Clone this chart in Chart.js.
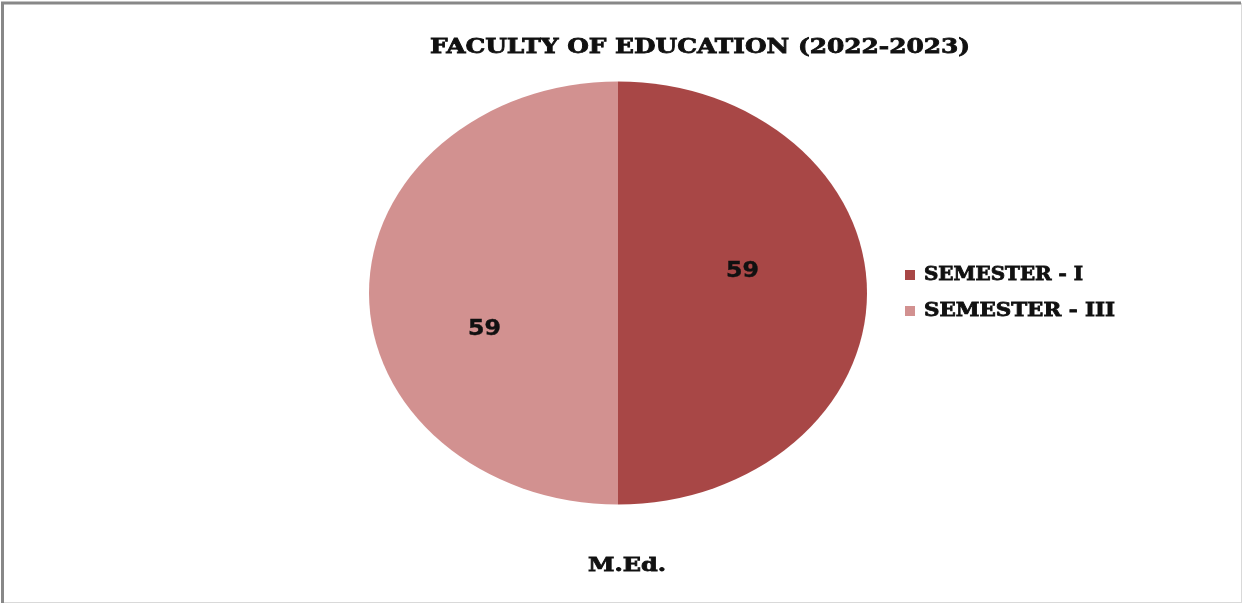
<!DOCTYPE html>
<html>
<head>
<meta charset="utf-8">
<script src="https://cdn.jsdelivr.net/npm/chart.js@4.4.0/dist/chart.umd.min.js"></script>
<style>
  html, body { margin: 0; padding: 0; background: #fff; }
  #wrap { width: 1242px; height: 603px; position: relative; }
</style>
</head>
<body>
<div id="wrap"><canvas id="pieChart" width="1242" height="603"></canvas></div>
<script>
// Chart data
const categories = ['SEMESTER - I', 'SEMESTER - III'];
const students = [59, 59];
const sliceColors = ['#A84746', '#D29190'];
const chartTitle = 'FACULTY OF EDUCATION (2022-2023)';
const axisTitle = 'M.Ed.';

// label nudges (Excel places them a bit off the mid point)
const labelNudge = [[0, -21], [-9, 37]];

const serif = '"DejaVu Serif", "Liberation Serif", serif';

// squash the circle into the ellipse the original uses
const ellipsePlugin = {
    id: 'ellipse',
    beforeDatasetsDraw(chart) {
        const ctx = chart.ctx;
        const arc = chart.getDatasetMeta(0).data[0];
        ctx.save();
        ctx.translate(arc.x, arc.y);
        ctx.scale(1, 211.5 / arc.outerRadius);
        ctx.translate(-arc.x, -arc.y);
    },
    afterDatasetsDraw(chart) {
        const ctx = chart.ctx;
        const meta = chart.getDatasetMeta(0);
        const ratio = 211.5 / meta.data[0].outerRadius;
        ctx.restore();

        // value labels
        ctx.save();
        ctx.fillStyle = '#111';
        ctx.strokeStyle = '#111';
        ctx.lineWidth = 0.4;
        ctx.font = 'bold 21px "DejaVu Sans", sans-serif';
        ctx.textAlign = 'center';
        ctx.textBaseline = 'middle';
        meta.data.forEach((arc, i) => {
            const p = arc.tooltipPosition();
            const y = arc.y + (p.y - arc.y) * ratio;
            fitText(ctx, String(students[i]), p.x + labelNudge[i][0], y + labelNudge[i][1], 33);
        });
        ctx.restore();
    }
};

// draws text squeezed/stretched to a given width (heavy outline like the original)
function fitText(ctx, text, x, y, width) {
    const w = ctx.measureText(text).width;
    ctx.save();
    ctx.translate(x, y);
    ctx.scale(width / w, 1);
    ctx.fillText(text, 0, 0);
    ctx.strokeText(text, 0, 0);
    ctx.restore();
}

const decorPlugin = {
    id: 'decor',
    beforeDraw(chart) {
        const ctx = chart.ctx;
        ctx.save();
        ctx.fillStyle = '#fff';
        ctx.fillRect(0, 0, chart.width, chart.height);
        // frame
        ctx.strokeStyle = '#d9d9d9';
        ctx.lineWidth = 1;
        ctx.strokeRect(3.5, 3.5, chart.width - 4, chart.height - 4);
        ctx.strokeStyle = '#888';
        ctx.lineWidth = 3;
        ctx.beginPath();
        ctx.moveTo(2.5, chart.height);
        ctx.lineTo(2.5, 3);
        ctx.lineTo(chart.width - 1, 3);
        ctx.stroke();
        ctx.restore();
    },
    afterDraw(chart) {
        const ctx = chart.ctx;
        ctx.save();
        ctx.fillStyle = '#111';
        ctx.strokeStyle = '#111';
        ctx.lineWidth = 0.8;
        ctx.textAlign = 'left';
        ctx.textBaseline = 'middle';

        ctx.font = 'bold 20px ' + serif;
        fitText(ctx, chartTitle, 430, 48, 540);

        ctx.font = 'bold 19px ' + serif;
        fitText(ctx, axisTitle, 588, 566, 78);

        // legend
        const legendY = [275, 311];
        const legendW = [159, 191];
        categories.forEach((cat, i) => {
            ctx.fillStyle = sliceColors[i];
            ctx.fillRect(905, legendY[i] - 5, 10, 10);
            ctx.fillStyle = '#111';
            ctx.font = 'bold 18px ' + serif;
            fitText(ctx, cat, 924, legendY[i], legendW[i]);
        });
        ctx.restore();
    }
};

const ctx = document.getElementById('pieChart').getContext('2d');
window.pieChart = new Chart(ctx, {
    type: 'pie',
    data: {
        labels: categories,
        datasets: [{
            data: students,
            backgroundColor: sliceColors,
            borderWidth: 0
        }]
    },
    options: {
        responsive: false,
        animation: false,
        layout: {
            padding: { left: 369, right: 375, top: 44, bottom: 61 }
        },
        plugins: {
            legend: { display: false },
            title: { display: false },
            tooltip: { enabled: false }
        }
    },
    plugins: [ellipsePlugin, decorPlugin]
});
</script>
</body>
</html>
